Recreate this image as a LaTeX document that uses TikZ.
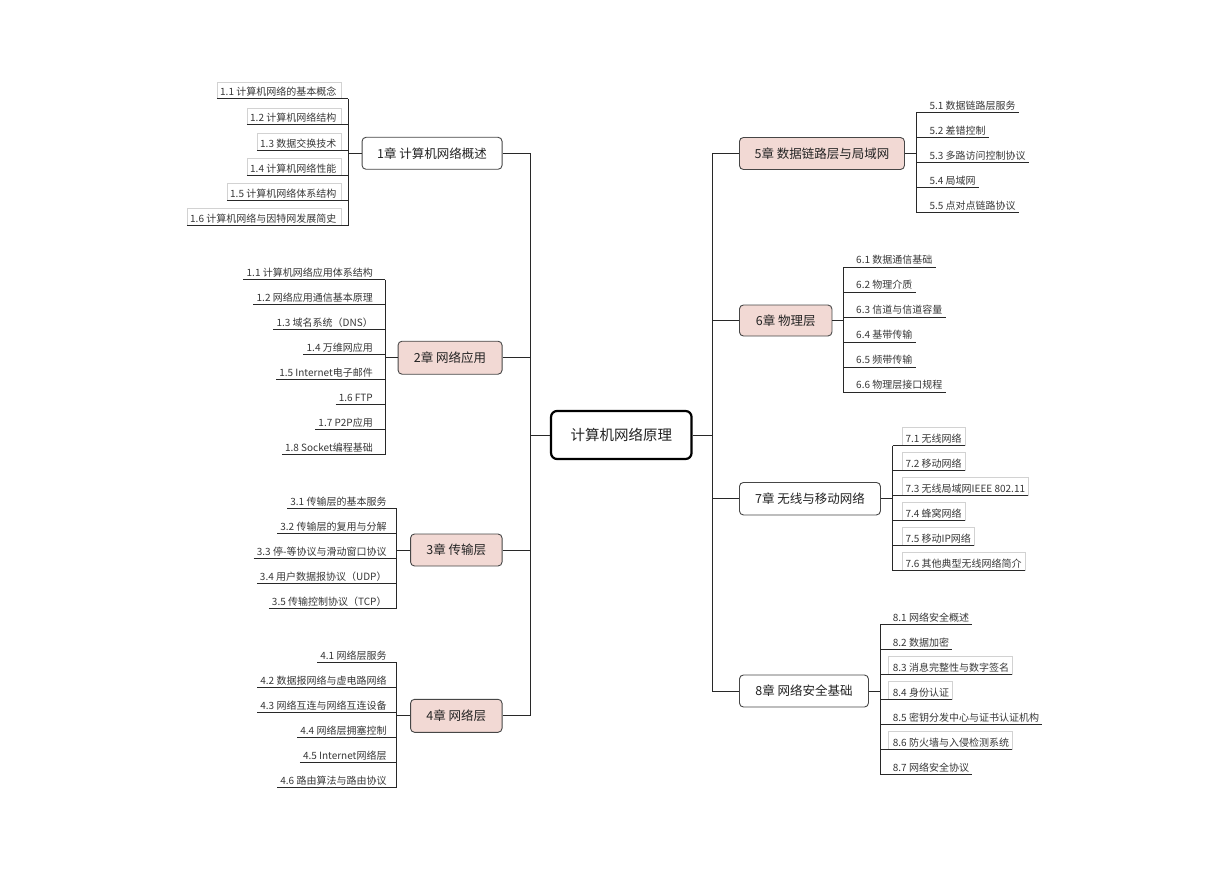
\documentclass[tikz,border=0pt]{standalone}
\usepackage{fontspec}
\setmainfont{Noto Sans CJK SC}
\definecolor{pinkfill}{RGB}{242,217,212}
\definecolor{chapborder}{RGB}{70,70,70}
\definecolor{linec}{RGB}{40,40,40}
\definecolor{textgrey}{RGB}{55,55,55}
\definecolor{textdark}{RGB}{35,35,35}
\definecolor{boxgrey}{RGB}{210,210,210}
\tikzset{
  conn/.style={draw=linec, line width=1pt},
  gbox/.style={draw=boxgrey, line width=0.8pt},
  chap/.style={draw=chapborder, line width=0.9pt, rounded corners=4pt, minimum height=32pt, inner sep=0pt, font=\fontsize{12.5}{14}\selectfont, text=textdark},
  pinkchap/.style={chap, fill=pinkfill},
  whitechap/.style={chap, fill=white},
  rootnode/.style={draw=black, line width=2.2pt, rounded corners=6pt, fill=white, minimum width=140.5pt, minimum height=48pt, inner sep=0pt, font=\fontsize{14.5}{16}\selectfont, text=textdark},
  litem/.style={anchor=south east, inner xsep=0pt, inner ysep=2pt, font=\fontsize{10}{12}\selectfont, text=textgrey, text height=8.5pt, text depth=1pt},
  ritem/.style={litem, anchor=south west},
}
\begin{document}
\begin{tikzpicture}[x=1pt,y=-1pt]
\useasboundingbox (0,0) rectangle (1228,869);
% root
\node[rootnode] (root) at (621.3,435) {计算机网络原理};
\coordinate (tl) at (530,435);
\coordinate (tr) at (712,435);
% chapters
\node[whitechap, anchor=east, minimum width=140pt] (ch1) at (502.5,153.3) {1章 计算机网络概述};
\node[pinkchap, anchor=east, minimum width=104pt, minimum height=33pt] (ch2) at (502.5,357.7) {2章 网络应用};
\node[pinkchap, anchor=east, minimum width=91.5pt] (ch3) at (502.5,550) {3章 传输层};
\node[pinkchap, anchor=east, minimum width=91.5pt, minimum height=33pt] (ch4) at (502.5,715.8) {4章 网络层};
\node[pinkchap, anchor=west, minimum width=165pt] (ch5) at (739,153.5) {5章 数据链路层与局域网};
\node[pinkchap, anchor=west, minimum width=92.5pt, minimum height=31pt] (ch6) at (739,320.5) {6章 物理层};
\node[whitechap, anchor=west, minimum width=141pt, minimum height=32.5pt] (ch7) at (739,498.7) {7章 无线与移动网络};
\node[whitechap, anchor=west, minimum width=129pt] (ch8) at (739,691) {8章 网络安全基础};
% trunks
\draw[conn] (root.west) -- (tl);
\draw[conn] (root.east) -- (tr);
\draw[conn] (ch1.east -| tl) -- (ch4.east -| tl);
\draw[conn] (ch5.west -| tr) -- (ch8.west -| tr);
\foreach \c in {ch1,ch2,ch3,ch4} \draw[conn] (\c.east) -- (\c.east -| tl);
\foreach \c in {ch5,ch6,ch7,ch8} \draw[conn] (\c.west) -- (\c.west -| tr);
% junctions
\coordinate (j1) at (348,153.3);
\coordinate (j2) at (385.3,357.7);
\coordinate (j3) at (396.7,550);
\coordinate (j4) at (396.7,715.8);
\coordinate (j5) at (916.7,153.5);
\coordinate (j6) at (843.3,320.5);
\coordinate (j7) at (892.7,498.7);
\coordinate (j8) at (880,691);
\draw[conn] (ch1.west) -- (j1);
\draw[conn] (ch2.west) -- (j2);
\draw[conn] (ch3.west) -- (j3);
\draw[conn] (ch4.west) -- (j4);
\draw[conn] (ch5.east) -- (j5);
\draw[conn] (ch6.east) -- (j6);
\draw[conn] (ch7.east) -- (j7);
\draw[conn] (ch8.east) -- (j8);
% chapter 1 items
\foreach \t/\y [count=\i] in {1.1 计算机网络的基本概念/99, 1.2 计算机网络结构/125, 1.3 数据交换技术/150.5, 1.4 计算机网络性能/175.5, 1.5 计算机网络体系结构/200.5, 1.6 计算机网络与因特网发展简史/225.5}{
  \node[litem] (c1s\i) at (336.5,\y) {\t};
  \draw[gbox] ([xshift=-3pt]c1s\i.south west) -- ([xshift=-3pt,yshift=17pt]c1s\i.south west) -- ([xshift=4.5pt,yshift=17pt]c1s\i.south east) -- ([xshift=4.5pt]c1s\i.south east);
  \draw[conn] ([xshift=-3pt]c1s\i.south west) -- (c1s\i.south west -| j1);
}
\draw[conn] (c1s1.south west -| j1) -- (c1s6.south west -| j1);
% chapter 2 items
\foreach \t/\y [count=\i] in {1.1 计算机网络应用体系结构/279.5, 1.2 网络应用通信基本原理/304.5, 1.3 域名系统（DNS）/329.5, 1.4 万维网应用/354.5, 1.5 Internet电子邮件/379.5, 1.6 FTP/404.5, 1.7 P2P应用/429.5, 1.8 Socket编程基础/454.5}{
  \node[litem] (c2s\i) at (373,\y) {\t};
  \draw[conn] ([xshift=-3pt]c2s\i.south west) -- (c2s\i.south west -| j2);
}
\draw[conn] (c2s1.south west -| j2) -- (c2s8.south west -| j2);
% chapter 3 items
\foreach \t/\y [count=\i] in {3.1 传输层的基本服务/508.5, 3.2 传输层的复用与分解/533.5, 3.3 停-等协议与滑动窗口协议/558.5, 3.4 用户数据报协议（UDP）/583.5, 3.5 传输控制协议（TCP）/608.5}{
  \node[litem] (c3s\i) at (386.7,\y) {\t};
  \draw[conn] ([xshift=-3pt]c3s\i.south west) -- (c3s\i.south west -| j3);
}
\draw[conn] (c3s1.south west -| j3) -- (c3s5.south west -| j3);
% chapter 4 items
\foreach \t/\y [count=\i] in {4.1 网络层服务/662.5, 4.2 数据报网络与虚电路网络/687.5, 4.3 网络互连与网络互连设备/712.5, 4.4 网络层拥塞控制/737.5, 4.5 Internet网络层/762.5, 4.6 路由算法与路由协议/787.5}{
  \node[litem] (c4s\i) at (386.7,\y) {\t};
  \draw[conn] ([xshift=-3pt]c4s\i.south west) -- (c4s\i.south west -| j4);
}
\draw[conn] (c4s1.south west -| j4) -- (c4s6.south west -| j4);
% chapter 5 items
\foreach \t/\y [count=\i] in {5.1 数据链路层服务/112.5, 5.2 差错控制/137.5, 5.3 多路访问控制协议/162.5, 5.4 局域网/187.5, 5.5 点对点链路协议/212.5}{
  \node[ritem] (c5s\i) at (929.4,\y) {\t};
  \draw[conn] (c5s\i.south west -| j5) -- ([xshift=3pt]c5s\i.south east);
}
\draw[conn] (c5s1.south west -| j5) -- (c5s5.south west -| j5);
% chapter 6 items
\foreach \t/\y [count=\i] in {6.1 数据通信基础/267, 6.2 物理介质/292, 6.3 信道与信道容量/317, 6.4 基带传输/342, 6.5 频带传输/367, 6.6 物理层接口规程/392}{
  \node[ritem] (c6s\i) at (856,\y) {\t};
  \draw[conn] (c6s\i.south west -| j6) -- ([xshift=3pt]c6s\i.south east);
}
\draw[conn] (c6s1.south west -| j6) -- (c6s6.south west -| j6);
% chapter 7 items
\foreach \t/\y [count=\i] in {7.1 无线网络/445.5, 7.2 移动网络/470.5, 7.3 无线局域网IEEE 802.11/495.5, 7.4 蜂窝网络/520.5, 7.5 移动IP网络/545.5, 7.6 其他典型无线网络简介/570.5}{
  \node[ritem] (c7s\i) at (905.4,\y) {\t};
  \draw[gbox] ([xshift=-3.5pt]c7s\i.south west) -- ([xshift=-3.5pt,yshift=18pt]c7s\i.south west) -- ([xshift=3pt,yshift=18pt]c7s\i.south east) -- ([xshift=3pt]c7s\i.south east);
  \draw[conn] (c7s\i.south west -| j7) -- ([xshift=3pt]c7s\i.south east);
}
\draw[conn] (c7s1.south west -| j7) -- (c7s6.south west -| j7);
% chapter 8 items
\foreach \t/\y [count=\i] in {8.1 网络安全概述/624.5, 8.2 数据加密/649.5, 8.3 消息完整性与数字签名/674.5, 8.4 身份认证/699.5, 8.5 密钥分发中心与证书认证机构/724.5, 8.6 防火墙与入侵检测系统/749.5, 8.7 网络安全协议/774.5}{
  \node[ritem] (c8s\i) at (892.7,\y) {\t};
}
\foreach \i in {3,4,6}{
  \draw[gbox] ([xshift=-4pt]c8s\i.south west) -- ([xshift=-4pt,yshift=18pt]c8s\i.south west) -- ([xshift=3pt,yshift=18pt]c8s\i.south east) -- ([xshift=3pt]c8s\i.south east);
}
\foreach \i in {1,...,7}{
  \draw[conn] (c8s\i.south west -| j8) -- ([xshift=3pt]c8s\i.south east);
}
\draw[conn] (c8s1.south west -| j8) -- (c8s7.south west -| j8);
\end{tikzpicture}
\end{document}
